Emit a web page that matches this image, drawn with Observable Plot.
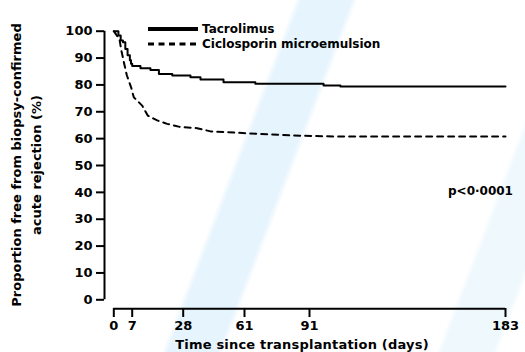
<!DOCTYPE html>
<html>
<head>
<meta charset="utf-8">
<script src="https://cdn.jsdelivr.net/npm/d3@7"></script>
<script src="https://cdn.jsdelivr.net/npm/@observablehq/plot@0.6"></script>
<style>
  body { margin: 0; background: #fff; }
  #wrap {
    position: relative; width: 525px; height: 352px; overflow: hidden;
    background: linear-gradient(110.8deg, #fff 44.8%, #e6f4fd 45.8%, #e6f4fd 53.3%, #fff 54.3%, #fff 86.5%, #eef8fd 87.5%, #eef8fd 95%, #fff 96%);
    font-family: "DejaVu Sans", sans-serif; color: #000;
  }
  #chart { position: absolute; left: 0; top: 0; }
  .ytitle {
    position: absolute; left: -123px; top: 145px; width: 300px; height: 40px;
    transform: rotate(-90deg); text-align: center; font-weight: bold; font-size: 13px; line-height: 20px;
    white-space: nowrap;
  }
  .xtitle {
    position: absolute; left: 152px; width: 300px; top: 337px; text-align: center;
    font-size: 13px; font-weight: bold; letter-spacing: 0.2px; white-space: nowrap;
  }
  .legend { position: absolute; left: 148px; top: 21px; font-size: 12px; font-weight: bold; }
  .legend .row { display: flex; align-items: center; height: 15.5px; }
  .legend svg { margin-right: 4px; }
  .pval { position: absolute; left: 448px; top: 184px; font-size: 12px; font-weight: bold; }
</style>
</head>
<body>
<div id="wrap">
  <div id="chart"></div>
  <div class="ytitle">Proportion free from biopsy-confirmed<br>acute rejection (%)</div>
  <div class="xtitle">Time since transplantation (days)</div>
  <div class="legend">
    <div class="row"><svg width="50" height="8"><line x1="0" x2="50" y1="4" y2="4" stroke="#000" stroke-width="4"/></svg><span>Tacrolimus</span></div>
    <div class="row"><svg width="50" height="8"><line x1="0" x2="50" y1="4" y2="4" stroke="#000" stroke-width="3" stroke-dasharray="6,4.5"/></svg><span>Ciclosporin microemulsion</span></div>
  </div>
  <div class="pval">p&lt;0·0001</div>
</div>
<script>
// Data (days since transplantation, % free from biopsy-confirmed acute rejection)
const tacroDays = [0, 1.76, 2.62, 3.48, 4.38, 5.24, 6.11, 6.55, 7.0, 10.4, 14.5, 18.0, 23.5, 31.9, 37.3, 49.7, 66.0, 97.6, 105.5, 183];
const tacroPct  = [100, 98.4, 96.5, 95.9, 93.4, 91.0, 89.2, 87.9, 87.0, 86.2, 85.6, 84.1, 83.5, 82.9, 82.0, 81.0, 80.4, 79.8, 79.4, 79.4];
const cicloDays = [0, 2.17, 2.88, 4.11, 4.98, 6.55, 7.66, 11.1, 13.4, 17.3, 21.4, 26.9, 35.5, 42.7, 67.0, 82.2, 104.1, 183];
const cicloPct  = [100, 97.0, 92.8, 87.2, 83.5, 79.2, 75.4, 72.3, 68.6, 66.8, 65.5, 64.3, 63.9, 62.7, 61.8, 61.2, 60.8, 60.8];
const xTicks = [0, 7, 28, 61, 91, 183];
const yTicks = [0, 10, 20, 30, 40, 50, 60, 70, 80, 90, 100];

const tacro = tacroDays.map((d, i) => ({day: d, pct: tacroPct[i]}));
const ciclo = cicloDays.map((d, i) => ({day: d, pct: cicloPct[i]}));

// The original time axis is not evenly spaced: piecewise-linear between the labelled days.
const timeAxis = d3.scaleLinear().domain(xTicks).range([113.3, 131.7, 182.7, 244, 309, 505]);

const chart = Plot.plot({
  width: 525,
  height: 352,
  marginLeft: 104,
  marginRight: 20,
  marginTop: 31,
  marginBottom: 44,
  style: {background: "transparent", fontFamily: "DejaVu Sans", fontSize: "13px", fontWeight: "bold", color: "#000"},
  x: {type: "linear", transform: timeAxis, domain: [113.3, 505], range: [113.3, 505]},
  y: {domain: [0, 100], range: [299.3, 30.7]},
  marks: [
    Plot.axisY({ticks: yTicks, anchor: "left", tickSize: 8, tickPadding: 4, label: null, strokeWidth: 2}),
    Plot.axisX({ticks: xTicks.map(timeAxis), anchor: "bottom", tickSize: 9, tickPadding: 3, label: null, strokeWidth: 2,
                tickFormat: v => String(Math.round(timeAxis.invert(v)))}),
    Plot.ruleX([xTicks[0]], {y1: yTicks[0], y2: yTicks[yTicks.length - 1], dx: -9.3, strokeWidth: 2}),
    Plot.ruleY([yTicks[0]], {x1: () => xTicks[0], x2: () => xTicks[xTicks.length - 1], dy: 9, strokeWidth: 2}),
    Plot.line(ciclo, {x: "day", y: "pct", stroke: "#000", strokeWidth: 2, strokeDasharray: "6,5"}),
    Plot.line(tacro, {x: "day", y: "pct", stroke: "#000", strokeWidth: 2, curve: "step-after"})
  ]
});
document.getElementById("chart").appendChild(chart);
</script>
</body>
</html>
